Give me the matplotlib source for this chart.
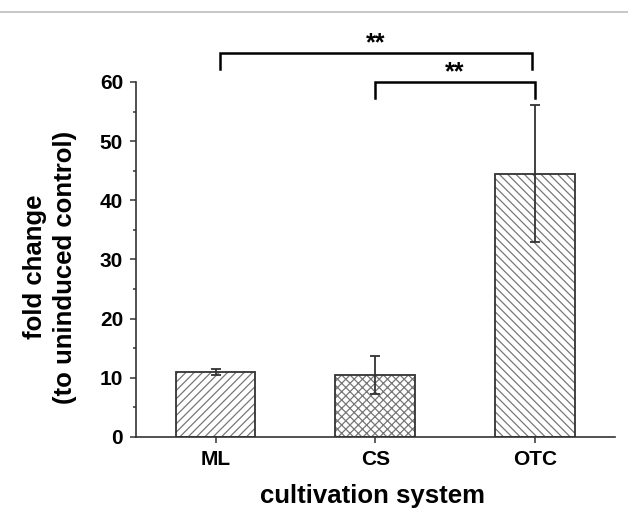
import matplotlib.pyplot as plt
from matplotlib.lines import Line2D
from matplotlib.ticker import MultipleLocator

plt.rcParams['font.family'] = ['Liberation Sans', 'DejaVu Sans']
plt.rcParams['font.weight'] = 'bold'
plt.rcParams['hatch.linewidth'] = 0.9

systems = ['ML', 'CS', 'OTC']
fold_change = [11.0, 10.5, 44.5]
fold_err = [0.5, 3.2, 11.6]
hatches = ['////', 'xxxx', '\\\\\\\\']

# significance brackets: (left x, right x, label, height)
sig_left = [1.03, 2.0]
sig_right = [2.98, 3.0]
sig_labels = ['**', '**']
sig_heights = [64.9, 60.0]
sig_leg = 2.7

dark = '#333333'

fig = plt.figure(figsize=(6.28, 5.09), dpi=100)
ax = fig.add_axes([0.216, 0.1415, 0.763, 0.6975])

x = [1, 2, 3]
# hatch in grey, outline in dark grey
ax.bar(x, fold_change, width=0.5, color='white', edgecolor='#777777',
       hatch=hatches, linewidth=0, zorder=2)
ax.bar(x, fold_change, width=0.5, fill=False, edgecolor=dark,
       linewidth=1.3, zorder=3)
ax.errorbar(x, fold_change, yerr=fold_err, fmt='none', ecolor=dark,
            elinewidth=1.3, capsize=3.5, capthick=1.3, zorder=4)

for xl, xr, lab, h in zip(sig_left, sig_right, sig_labels, sig_heights):
    ax.plot([xl, xl, xr, xr], [h - sig_leg, h, h, h - sig_leg], color='black',
            lw=1.8, clip_on=False, solid_joinstyle='miter')
    ax.text((xl + xr) / 2, h - 0.4, lab, ha='center', va='bottom',
            fontsize=18, fontweight='bold', clip_on=False)

ax.set_xlim(0.5, 3.5)
ax.set_ylim(0, 60)
ax.set_xticks(x)
ax.set_xticklabels(systems)
ax.yaxis.set_major_locator(MultipleLocator(10))
ax.yaxis.set_minor_locator(MultipleLocator(5))

for s in ['top', 'right']:
    ax.spines[s].set_visible(False)
for s in ['left', 'bottom']:
    ax.spines[s].set_color(dark)
    ax.spines[s].set_linewidth(1.2)

ax.tick_params(axis='both', which='major', direction='out', length=4.5,
               width=1.1, color=dark, labelsize=15)
ax.tick_params(axis='y', which='minor', direction='out', length=2.5,
               width=1.1, color=dark)
ax.tick_params(axis='x', pad=5)
ax.tick_params(axis='y', pad=4.5)

fig.text(50 / 628, 1 - 267 / 509, 'fold change\n(to uninduced control)',
         rotation=90, ha='center', va='center', fontsize=18.5,
         fontweight='bold', linespacing=1.35)
fig.text(373 / 628, 1 - 503 / 509, 'cultivation system', ha='center',
         va='baseline', fontsize=18.5, fontweight='bold')

fig.add_artist(Line2D([0, 1], [1 - 11.5 / 509, 1 - 11.5 / 509],
                      color='#bdbdbd', lw=1.2, transform=fig.transFigure))

fig.savefig('out.png', dpi=100)
